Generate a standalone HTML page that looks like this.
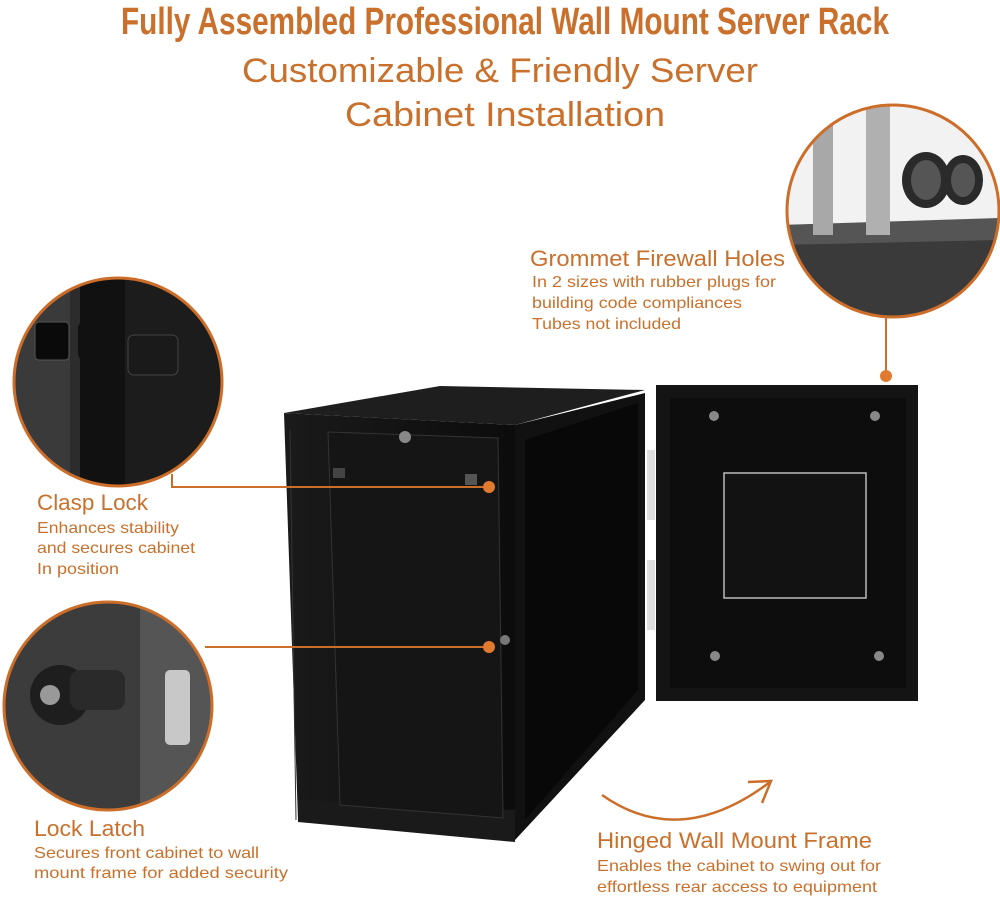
<!DOCTYPE html>
<html><head><meta charset="utf-8"><style>
html,body{margin:0;padding:0;background:#fff;}
body{width:1000px;height:898px;overflow:hidden;position:relative;font-family:"Liberation Sans",sans-serif;}
svg{position:absolute;left:0;top:0;}
</style></head><body>
<svg width="1000" height="898" viewBox="0 0 1000 898" xmlns="http://www.w3.org/2000/svg">
<defs>
<clipPath id="c1"><circle cx="893" cy="211" r="106"/></clipPath>
<clipPath id="c2"><circle cx="118" cy="382" r="104"/></clipPath>
<clipPath id="c3"><circle cx="108" cy="706" r="104"/></clipPath>
<linearGradient id="gf" x1="0" y1="0" x2="1" y2="0"><stop offset="0" stop-color="#1a1a1a"/><stop offset="1" stop-color="#0c0c0c"/></linearGradient>
</defs>
<g font-family="'Liberation Sans Narrow','Liberation Sans',sans-serif" fill="#c8702c" text-anchor="middle">
<text x="505" y="34" font-size="38" font-weight="bold" textLength="768" lengthAdjust="spacingAndGlyphs">Fully Assembled Professional Wall Mount Server Rack</text>
<text x="500" y="82" font-size="34" textLength="516" lengthAdjust="spacingAndGlyphs">Customizable &amp; Friendly Server</text>
<text x="505" y="126" font-size="34" textLength="320" lengthAdjust="spacingAndGlyphs">Cabinet Installation</text>
</g>
<!-- top right circle -->
<g clip-path="url(#c1)">
<rect x="780" y="100" width="230" height="130" fill="#f2f2f2"/>
<rect x="780" y="230" width="230" height="100" fill="#3a3a3a"/>
<polygon points="780,225 1000,218 1000,240 780,245" fill="#555"/>
<rect x="813" y="100" width="20" height="135" fill="#a8a8a8"/>
<rect x="866" y="100" width="24" height="135" fill="#b0b0b0"/>
<ellipse cx="926" cy="180" rx="24" ry="28" fill="#2a2a2a"/>
<ellipse cx="926" cy="180" rx="15" ry="20" fill="#555"/>
<ellipse cx="963" cy="180" rx="20" ry="25" fill="#2a2a2a"/>
<ellipse cx="963" cy="180" rx="12" ry="17" fill="#555"/>
</g>
<circle cx="893" cy="211" r="106" fill="none" stroke="#cc6e2a" stroke-width="3"/>
<!-- left circle 1 -->
<g clip-path="url(#c2)">
<rect x="10" y="275" width="220" height="215" fill="#2c2c2c"/>
<rect x="10" y="275" width="60" height="215" fill="#3a3a3a"/>
<rect x="80" y="275" width="45" height="215" fill="#111"/>
<rect x="125" y="275" width="100" height="215" fill="#1c1c1c"/>
<rect x="35" y="322" width="34" height="38" rx="4" fill="#0a0a0a" stroke="#555"/>
<rect x="78" y="322" width="38" height="38" rx="6" fill="#111"/>
<rect x="128" y="335" width="50" height="40" rx="6" fill="#1a1a1a" stroke="#444"/>
</g>
<circle cx="118" cy="382" r="104" fill="none" stroke="#cc6e2a" stroke-width="3"/>
<!-- left circle 2 -->
<g clip-path="url(#c3)">
<rect x="0" y="600" width="220" height="215" fill="#3c3c3c"/>
<rect x="140" y="600" width="80" height="215" fill="#555"/>
<rect x="165" y="670" width="25" height="75" rx="5" fill="#c8c8c8"/>
<circle cx="60" cy="695" r="30" fill="#1e1e1e"/>
<rect x="70" y="670" width="55" height="40" rx="10" fill="#2a2a2a"/>
<circle cx="50" cy="695" r="10" fill="#999"/>
</g>
<circle cx="108" cy="706" r="104" fill="none" stroke="#cc6e2a" stroke-width="3"/>
<!-- cabinet -->
<polygon points="284,413 440,386 645,390 515,425" fill="#1e1e1e"/>
<polygon points="515,425 645,393 645,700 515,840" fill="#111"/>
<polygon points="525,440 638,403 638,690 525,820" fill="#080808"/>
<polygon points="284,413 515,425 515,840 298,820" fill="url(#gf)"/>
<polygon points="298,800 515,810 515,842 298,822" fill="#1a1a1a"/>
<polygon points="328,432 498,438 503,818 340,805" fill="#151515" stroke="#333"/>
<line x1="290" y1="430" x2="296" y2="820" stroke="#333"/>
<circle cx="405" cy="437" r="6" fill="#888"/>
<rect x="333" y="468" width="12" height="10" fill="#444"/>
<rect x="465" y="474" width="12" height="11" fill="#555"/>
<circle cx="505" cy="640" r="5" fill="#777"/>
<!-- door -->
<rect x="656" y="385" width="262" height="316" fill="#141414"/>
<rect x="670" y="398" width="236" height="290" fill="#0d0d0d"/>
<rect x="724" y="473" width="142" height="125" fill="#121212" stroke="#bbb" stroke-width="1.5"/>
<circle cx="714" cy="416" r="5" fill="#888"/><circle cx="875" cy="416" r="5" fill="#888"/>
<circle cx="715" cy="656" r="5" fill="#888"/><circle cx="879" cy="656" r="5" fill="#888"/>
<rect x="647" y="450" width="8" height="70" fill="#ddd"/>
<rect x="647" y="560" width="8" height="70" fill="#ddd"/>
<!-- connectors -->
<line x1="886" y1="317" x2="886" y2="375" stroke="#cc6e2a" stroke-width="2"/>
<circle cx="886" cy="376" r="6" fill="#e07a2e"/>
<polyline points="172,474 172,487 489,487" fill="none" stroke="#cc6e2a" stroke-width="2"/>
<circle cx="489" cy="487" r="6" fill="#e07a2e"/>
<line x1="205" y1="647" x2="489" y2="647" stroke="#cc6e2a" stroke-width="2"/>
<circle cx="489" cy="647" r="6" fill="#e07a2e"/>
<!-- arrow -->
<path d="M602,795 Q680,850 770,782" fill="none" stroke="#cc6e2a" stroke-width="2.5"/>
<polyline points="748,782 771,781 762,803" fill="none" stroke="#cc6e2a" stroke-width="2.5"/>
<g font-family="'Liberation Sans Narrow','Liberation Sans',sans-serif" fill="#c8702c">
<text x="530" y="266" font-size="22" textLength="255" lengthAdjust="spacingAndGlyphs">Grommet Firewall Holes</text>
<text x="532" y="287" font-size="16" textLength="244" lengthAdjust="spacingAndGlyphs">In 2 sizes with rubber plugs for</text>
<text x="532" y="308" font-size="16" textLength="210" lengthAdjust="spacingAndGlyphs">building code compliances</text>
<text x="532" y="329" font-size="16" textLength="149" lengthAdjust="spacingAndGlyphs">Tubes not included</text>
<text x="37" y="510" font-size="22" textLength="111" lengthAdjust="spacingAndGlyphs">Clasp Lock</text>
<text x="37" y="533" font-size="16" textLength="142" lengthAdjust="spacingAndGlyphs">Enhances stability</text>
<text x="37" y="553" font-size="16" textLength="158" lengthAdjust="spacingAndGlyphs">and secures cabinet</text>
<text x="37" y="574" font-size="16" textLength="82" lengthAdjust="spacingAndGlyphs">In position</text>
<text x="34" y="836" font-size="22" textLength="111" lengthAdjust="spacingAndGlyphs">Lock Latch</text>
<text x="34" y="858" font-size="16" textLength="225" lengthAdjust="spacingAndGlyphs">Secures front cabinet to wall</text>
<text x="34" y="878" font-size="16" textLength="254" lengthAdjust="spacingAndGlyphs">mount frame for added security</text>
<text x="597" y="848" font-size="22" textLength="275" lengthAdjust="spacingAndGlyphs">Hinged Wall Mount Frame</text>
<text x="597" y="871" font-size="16" textLength="284" lengthAdjust="spacingAndGlyphs">Enables the cabinet to swing out for</text>
<text x="597" y="892" font-size="16" textLength="280" lengthAdjust="spacingAndGlyphs">effortless rear access to equipment</text>
</g>
</svg>
</body></html>
